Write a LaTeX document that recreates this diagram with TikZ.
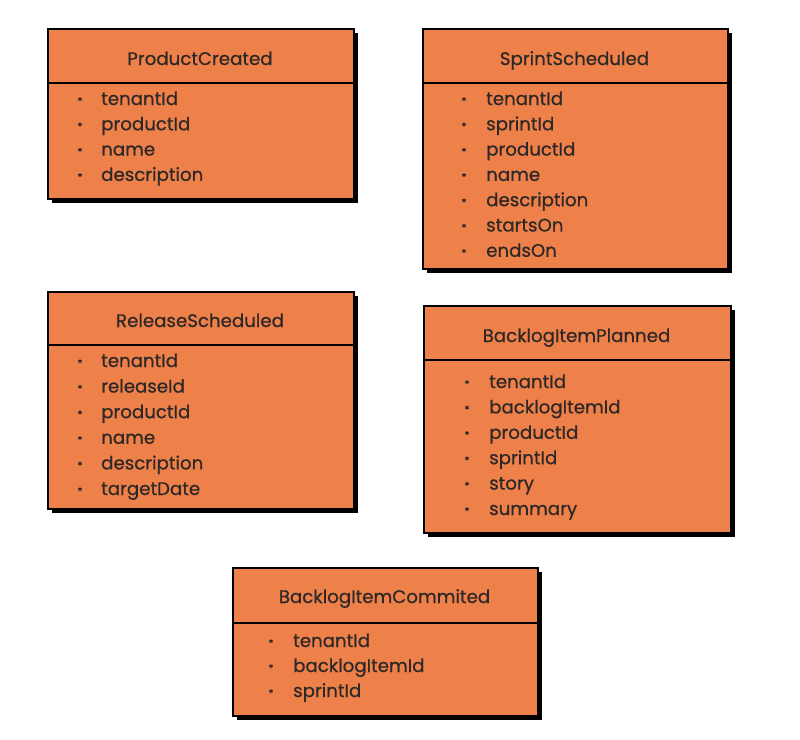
\documentclass[tikz,border=0pt]{standalone}
\usepackage{fontspec}
\setmainfont{Poppins}[FakeBold=0.6]
\usetikzlibrary{shadows}
\definecolor{boxorange}{RGB}{238,128,74}
\definecolor{txt}{RGB}{45,40,38}
\tikzset{
  x=1pt, y=-1pt,
  evbox/.style={draw=black, line width=1.6pt, fill=boxorange, rectangle, inner sep=0pt,
    anchor=north west,
    drop shadow={shadow xshift=4pt, shadow yshift=-4pt, fill=black, opacity=1}},
  title/.style={anchor=base, inner sep=0pt, text=txt, font=\fontsize{18.2}{20}\selectfont},
  item/.style={anchor=base west, inner sep=0pt, text=txt, font=\fontsize{18.2}{20}\selectfont},
  bul/.style={anchor=center, inner sep=0pt, text=txt, font=\fontsize{10}{10}\selectfont, yshift=-3pt},
  sep/.style={draw=black, line width=1.6pt}
}
\begin{document}
\begin{tikzpicture}
\useasboundingbox (0,0) rectangle (800,739);
% Box 1
\node[evbox, minimum width=306pt, minimum height=170pt] (b1) at (47,28) {};
\draw[sep] (47,83) -- (353,83);
\node[title] (t1) at (200,65) {ProductCreated};
\foreach \t [count=\i from 0] in {tenantId,productId,name,description} {
  \node[bul] (b1s\i) at (80,98+25.3*\i) {*};
  \node[item] (b1i\i) at (101,105+25.3*\i) {\t};
}
% Box 2
\node[evbox, minimum width=305pt, minimum height=240pt] (b2) at (422,28) {};
\draw[sep] (422,83) -- (727,83);
\node[title] (t2) at (574.5,65) {SprintScheduled};
\foreach \t [count=\i from 0] in {tenantId,sprintId,productId,name,description,startsOn,endsOn} {
  \node[bul] (b2s\i) at (464,98+25.3*\i) {*};
  \node[item] (b2i\i) at (486,105+25.3*\i) {\t};
}
% Box 3
\node[evbox, minimum width=306pt, minimum height=217pt] (b3) at (47,291) {};
\draw[sep] (47,345) -- (353,345);
\node[title] (t3) at (200,327) {ReleaseScheduled};
\foreach \t [count=\i from 0] in {tenantId,releaseId,productId,name,description,targetDate} {
  \node[bul] (b3s\i) at (80,360+25.6*\i) {*};
  \node[item] (b3i\i) at (101,367+25.6*\i) {\t};
}
% Box 4
\node[evbox, minimum width=307pt, minimum height=227pt] (b4) at (423,305) {};
\draw[sep] (423,360) -- (730,360);
\node[title] (t4) at (576.5,342) {BacklogItemPlanned};
\foreach \t [count=\i from 0] in {tenantId,backlogItemId,productId,sprintId,story,summary} {
  \node[bul] (b4s\i) at (467,381+25.4*\i) {*};
  \node[item] (b4i\i) at (489,388+25.4*\i) {\t};
}
% Box 5
\node[evbox, minimum width=305pt, minimum height=148pt] (b5) at (232,567) {};
\draw[sep] (232,623) -- (537,623);
\node[title] (t5) at (384.5,603) {BacklogItemCommited};
\foreach \t [count=\i from 0] in {tenantId,backlogItemId,sprintId} {
  \node[bul] (b5s\i) at (271,640+25*\i) {*};
  \node[item] (b5i\i) at (293,647+25*\i) {\t};
}
\end{tikzpicture}
\end{document}
